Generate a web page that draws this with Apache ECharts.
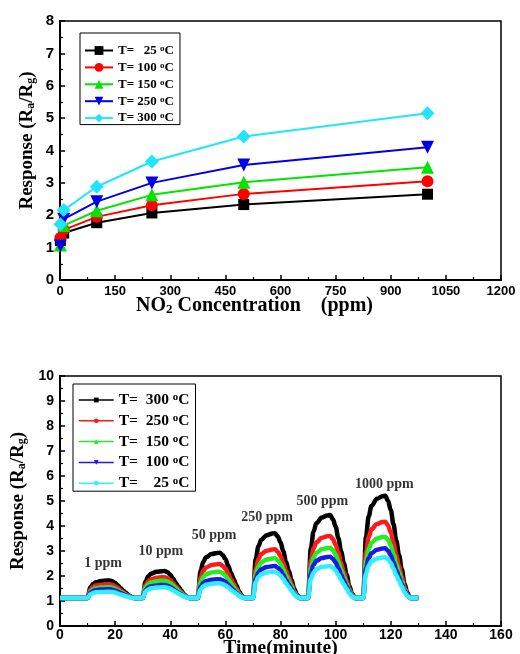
<!DOCTYPE html>
<html>
<head>
<meta charset="utf-8">
<script src="https://cdn.jsdelivr.net/npm/echarts@6/dist/echarts.min.js"></script>
<style>
  html, body { margin: 0; padding: 0; background: #fff; overflow: hidden; }
  #chart { width: 520px; height: 654px; }
</style>
</head>
<body>
<div id="chart"></div>
<script>
// ---- top panel: response vs NO2 concentration ----
const concPpm = [1, 10, 100, 250, 500, 1000]
const resp25 = [1.22, 1.45, 1.77, 2.07, 2.33, 2.65]
const resp100 = [1.30, 1.55, 1.95, 2.31, 2.66, 3.05]
const resp150 = [1.08, 1.68, 2.14, 2.63, 3.02, 3.48]
const resp250 = [1.05, 1.88, 2.42, 3.00, 3.55, 4.10]
const resp300 = [1.72, 2.16, 2.88, 3.66, 4.43, 5.15]

// ---- bottom panel: transient response vs time ----
const timeMin = [0,
  10, 11, 12, 13, 15, 17, 18, 19, 20, 21, 22, 23, 24, 25, 26, 27,
  30, 31, 32, 33, 35, 37, 38, 39, 40, 41, 42, 43, 44, 45, 46, 47,
  50, 51, 52, 53, 55, 57, 58, 59, 60, 61, 62, 63, 64, 65, 66, 67,
  70, 71, 72, 73, 75, 77, 78, 79, 80, 81, 82, 83, 84, 85, 86, 87,
  90, 91, 92, 93, 95, 97, 98, 99, 100, 101, 102, 103, 104, 105, 106, 107,
  110, 111, 112, 113, 115, 117, 118, 119, 120, 121, 122, 123, 124, 125, 126, 127,
  130]
const trans300 = [1.12,
  1.12, 1.54, 1.68, 1.75, 1.80, 1.82, 1.82, 1.79, 1.72, 1.62, 1.51, 1.41, 1.32, 1.22, 1.16, 1.12,
  1.12, 1.77, 1.98, 2.09, 2.17, 2.19, 2.20, 2.15, 2.05, 1.90, 1.72, 1.57, 1.42, 1.27, 1.17, 1.12,
  1.12, 2.21, 2.57, 2.75, 2.88, 2.92, 2.93, 2.84, 2.68, 2.42, 2.13, 1.88, 1.63, 1.37, 1.21, 1.12,
  1.12, 2.67, 3.19, 3.45, 3.63, 3.70, 3.71, 3.58, 3.35, 2.99, 2.57, 2.21, 1.85, 1.48, 1.25, 1.12,
  1.12, 3.11, 3.78, 4.11, 4.34, 4.42, 4.44, 4.27, 3.98, 3.51, 2.98, 2.51, 2.05, 1.59, 1.29, 1.12,
  1.12, 3.57, 4.39, 4.80, 5.09, 5.19, 5.21, 5.01, 4.64, 4.07, 3.41, 2.84, 2.27, 1.69, 1.33, 1.12,
  1.12]
const trans250 = [1.12,
  1.12, 1.45, 1.56, 1.62, 1.65, 1.67, 1.67, 1.64, 1.59, 1.52, 1.43, 1.35, 1.27, 1.20, 1.15, 1.12,
  1.12, 1.62, 1.78, 1.87, 1.93, 1.95, 1.95, 1.91, 1.83, 1.72, 1.59, 1.47, 1.35, 1.24, 1.16, 1.12,
  1.12, 1.94, 2.21, 2.34, 2.44, 2.47, 2.48, 2.41, 2.29, 2.10, 1.88, 1.69, 1.50, 1.31, 1.19, 1.12,
  1.12, 2.29, 2.68, 2.88, 3.01, 3.06, 3.07, 2.97, 2.80, 2.52, 2.21, 1.94, 1.67, 1.39, 1.22, 1.12,
  1.12, 2.61, 3.10, 3.35, 3.53, 3.59, 3.60, 3.48, 3.25, 2.91, 2.51, 2.16, 1.81, 1.47, 1.24, 1.12,
  1.12, 2.95, 3.56, 3.87, 4.08, 4.16, 4.17, 4.02, 3.74, 3.32, 2.83, 2.40, 1.97, 1.55, 1.27, 1.12,
  1.12]
const trans150 = [1.12,
  1.12, 1.38, 1.46, 1.51, 1.54, 1.55, 1.55, 1.53, 1.49, 1.43, 1.36, 1.30, 1.24, 1.18, 1.14, 1.12,
  1.12, 1.53, 1.67, 1.74, 1.79, 1.81, 1.81, 1.78, 1.71, 1.62, 1.51, 1.41, 1.31, 1.22, 1.16, 1.12,
  1.12, 1.75, 1.96, 2.07, 2.14, 2.17, 2.17, 2.12, 2.02, 1.88, 1.71, 1.56, 1.41, 1.27, 1.17, 1.12,
  1.12, 2.07, 2.39, 2.55, 2.66, 2.70, 2.71, 2.63, 2.49, 2.27, 2.01, 1.79, 1.57, 1.34, 1.20, 1.12,
  1.12, 2.33, 2.73, 2.93, 3.07, 3.12, 3.13, 3.03, 2.85, 2.57, 2.25, 1.96, 1.68, 1.40, 1.22, 1.12,
  1.12, 2.59, 3.08, 3.33, 3.50, 3.56, 3.57, 3.45, 3.23, 2.88, 2.49, 2.15, 1.81, 1.46, 1.24, 1.12,
  1.12]
const trans100 = [1.12,
  1.12, 1.33, 1.40, 1.44, 1.46, 1.47, 1.47, 1.45, 1.42, 1.37, 1.32, 1.27, 1.22, 1.17, 1.14, 1.12,
  1.12, 1.43, 1.54, 1.59, 1.62, 1.64, 1.64, 1.61, 1.57, 1.49, 1.41, 1.34, 1.27, 1.19, 1.15, 1.12,
  1.12, 1.57, 1.72, 1.80, 1.85, 1.87, 1.87, 1.83, 1.77, 1.66, 1.54, 1.44, 1.33, 1.23, 1.16, 1.12,
  1.12, 1.89, 2.14, 2.27, 2.36, 2.39, 2.40, 2.34, 2.22, 2.04, 1.84, 1.66, 1.48, 1.30, 1.18, 1.12,
  1.12, 2.11, 2.44, 2.61, 2.72, 2.76, 2.77, 2.69, 2.54, 2.31, 2.04, 1.81, 1.58, 1.35, 1.20, 1.12,
  1.12, 2.31, 2.71, 2.91, 3.05, 3.10, 3.11, 3.01, 2.83, 2.55, 2.23, 1.96, 1.68, 1.40, 1.22, 1.12,
  1.12]
const trans25 = [1.12,
  1.12, 1.27, 1.32, 1.35, 1.36, 1.37, 1.37, 1.36, 1.34, 1.30, 1.26, 1.23, 1.19, 1.16, 1.13, 1.12,
  1.12, 1.38, 1.46, 1.51, 1.54, 1.55, 1.55, 1.53, 1.49, 1.43, 1.36, 1.30, 1.24, 1.18, 1.14, 1.12,
  1.12, 1.47, 1.59, 1.65, 1.69, 1.71, 1.71, 1.68, 1.63, 1.55, 1.45, 1.37, 1.29, 1.20, 1.15, 1.12,
  1.12, 1.75, 1.96, 2.07, 2.14, 2.17, 2.17, 2.12, 2.02, 1.88, 1.71, 1.56, 1.41, 1.27, 1.17, 1.12,
  1.12, 1.89, 2.14, 2.27, 2.36, 2.39, 2.40, 2.34, 2.22, 2.04, 1.84, 1.66, 1.48, 1.30, 1.18, 1.12,
  1.12, 2.10, 2.42, 2.59, 2.70, 2.74, 2.75, 2.67, 2.52, 2.29, 2.03, 1.81, 1.58, 1.35, 1.20, 1.12,
  1.12]

const pulseLabels = ['1 ppm', '10 ppm', '50 ppm', '250 ppm', '500 ppm', '1000 ppm']
const pulseLabelTime = [15.6, 36.6, 55.9, 75.1, 95.2, 117.7]
const pulseLabelResp = [2.52, 3.0, 3.64, 4.36, 4.97, 5.68]

const SERIF = '"Liberation Serif", "Times New Roman", serif'
const SANS = '"Liberation Sans", Arial, sans-serif'

const zip = (xs, ys) => xs.map((x, i) => [x, ys[i]])

const legendText = {
  t25: 'T=   25 {s|o}C', t100: 'T= 100 {s|o}C', t150: 'T= 150 {s|o}C',
  t250: 'T= 250 {s|o}C', t300: 'T= 300 {s|o}C',
  b300: 'T=  300 {s|o}C', b250: 'T=  250 {s|o}C', b150: 'T=  150 {s|o}C',
  b100: 'T=  100 {s|o}C', b25: 'T=    25 {s|o}C'
}

const axisNameRich = (size, padding) => ({
  fontFamily: SERIF, fontWeight: 'bold', fontSize: size, color: '#000',
  padding: padding || 0,
  rich: {
    sub: { fontFamily: SERIF, fontWeight: 'bold', fontSize: Math.round(size * 0.65), lineHeight: 12, verticalAlign: 'bottom' }
  }
})

const valueAxis = (extra) => Object.assign({
  type: 'value',
  nameLocation: 'middle',
  nameMoveOverlap: false,
  axisLine: { show: true, lineStyle: { color: '#000', width: 2 } },
  axisTick: { show: true, inside: true, length: 5, lineStyle: { color: '#000', width: 1.5 } },
  minorTick: { show: true, splitNumber: 2, length: 3, lineStyle: { color: '#000', width: 1.2 } },
  splitLine: { show: false }
}, extra)

const legendBase = (extra) => Object.assign({
  orient: 'vertical',
  borderColor: '#000', borderWidth: 1,
  formatter: n => legendText[n]
}, extra)

const topSeries = [
  { name: 't25', data: resp25, color: '#000000', symbol: 'rect', symbolSize: 11 },
  { name: 't100', data: resp100, color: '#ff0000', symbol: 'circle', symbolSize: 12 },
  { name: 't150', data: resp150, color: '#00e400', symbol: 'triangle', symbolSize: 13 },
  { name: 't250', data: resp250, color: '#0000e6', symbol: 'triangle', symbolSize: 13, symbolRotate: 180 },
  { name: 't300', data: resp300, color: '#22e4ff', symbol: 'diamond', symbolSize: 14 }
]
const bottomSeries = [
  { name: 'b300', data: trans300, color: '#000000', symbol: 'rect' },
  { name: 'b250', data: trans250, color: '#ff1a1a', symbol: 'circle' },
  { name: 'b150', data: trans150, color: '#22ee22', symbol: 'triangle' },
  { name: 'b100', data: trans100, color: '#1a1ae6', symbol: 'triangle', rotate: 180 },
  { name: 'b25', data: trans25, color: '#33eeff', symbol: 'circle' }
]

const chart = echarts.init(document.getElementById('chart'))
chart.setOption({
  animation: false,
  grid: [
    { left: 60, right: 19, top: 21, height: 259, outerBoundsMode: 'none', show: true, borderColor: '#000', borderWidth: 1.5 },
    { left: 60, right: 19, top: 376, height: 250, outerBoundsMode: 'none', show: true, borderColor: '#000', borderWidth: 1.5 }
  ],
  legend: [
    legendBase({
      left: 80, top: 33,
      data: topSeries.map(s => s.name),
      itemWidth: 28, itemHeight: 11, itemGap: 3.9,
      padding: [11, 6, 0, 4],
      textStyle: {
        fontFamily: SERIF, fontWeight: 'bold', fontSize: 13, color: '#000',
        rich: { s: { fontFamily: SERIF, fontWeight: 'bold', fontSize: 9, lineHeight: 10, verticalAlign: 'top' } }
      }
    }),
    legendBase({
      left: 73, top: 384,
      data: bottomSeries.map(s => s.name),
      itemWidth: 35, itemHeight: 6, itemGap: 4.8,
      padding: [8, 6, 0, 5],
      lineStyle: { width: 1.5 },
      textStyle: {
        fontFamily: SERIF, fontWeight: 'bold', fontSize: 15.5, color: '#000',
        rich: { s: { fontFamily: SERIF, fontWeight: 'bold', fontSize: 11, lineHeight: 11, verticalAlign: 'top' } }
      }
    })
  ],
  xAxis: [
    valueAxis({
      gridIndex: 0, min: 0, max: 1200, interval: 150,
      name: 'NO{sub|2} Concentration    (ppm)', nameGap: 16,
      nameTextStyle: axisNameRich(20, [0, 52, 0, 0]),
      axisLabel: { color: '#000', fontFamily: SANS, fontWeight: 'bold', fontSize: 13, margin: 5, formatter: v => String(v) }
    }),
    valueAxis({
      gridIndex: 1, min: 0, max: 160, interval: 20,
      name: 'Time(minute)', nameGap: 12,
      nameTextStyle: { fontFamily: SERIF, fontWeight: 'bold', fontSize: 19.5, color: '#000' },
      axisLabel: { color: '#000', fontFamily: SANS, fontWeight: 'bold', fontSize: 14, margin: 2 }
    })
  ],
  yAxis: [
    valueAxis({
      gridIndex: 0, min: 0, max: 8, interval: 1,
      name: 'Response (R{sub|a}/R{sub|g})', nameGap: 23,
      nameTextStyle: axisNameRich(19, [0, 0, 0, 20]),
      axisLabel: { color: '#000', fontFamily: SANS, fontWeight: 'bold', fontSize: 15, margin: 6 }
    }),
    valueAxis({
      gridIndex: 1, min: 0, max: 10, interval: 1,
      name: 'Response (R{sub|a}/R{sub|g})', nameGap: 32,
      nameTextStyle: axisNameRich(19),
      axisLabel: { color: '#000', fontFamily: SANS, fontWeight: 'bold', fontSize: 14, margin: 6 }
    })
  ],
  series: topSeries.map(s => ({
    type: 'line', name: s.name, xAxisIndex: 0, yAxisIndex: 0,
    data: zip(concPpm, s.data),
    symbol: s.symbol, symbolSize: s.symbolSize, symbolRotate: s.symbolRotate || 0,
    showAllSymbol: true,
    itemStyle: { color: s.color },
    lineStyle: { color: s.color, width: 2 }
  })).concat(bottomSeries.map(s => ({
    type: 'line', name: s.name, xAxisIndex: 1, yAxisIndex: 1,
    data: zip(timeMin, s.data),
    smooth: 0.35, smoothMonotone: 'x',
    showSymbol: false,
    symbol: s.symbol, symbolSize: 4, symbolRotate: s.rotate || 0,
    itemStyle: { color: s.color },
    lineStyle: { color: s.color, width: 4.5 }
  }))).concat([{
    type: 'scatter', name: 'labels', xAxisIndex: 1, yAxisIndex: 1,
    symbolSize: 1, itemStyle: { color: 'transparent' },
    silent: true,
    data: pulseLabels.map((lab, i) => ({ name: lab, value: [pulseLabelTime[i], pulseLabelResp[i]] })),
    label: {
      show: true, position: 'inside', formatter: '{b}',
      fontFamily: SERIF, fontWeight: 'bold', fontSize: 14, color: '#000'
    }
  }])
})
</script>
</body>
</html>
